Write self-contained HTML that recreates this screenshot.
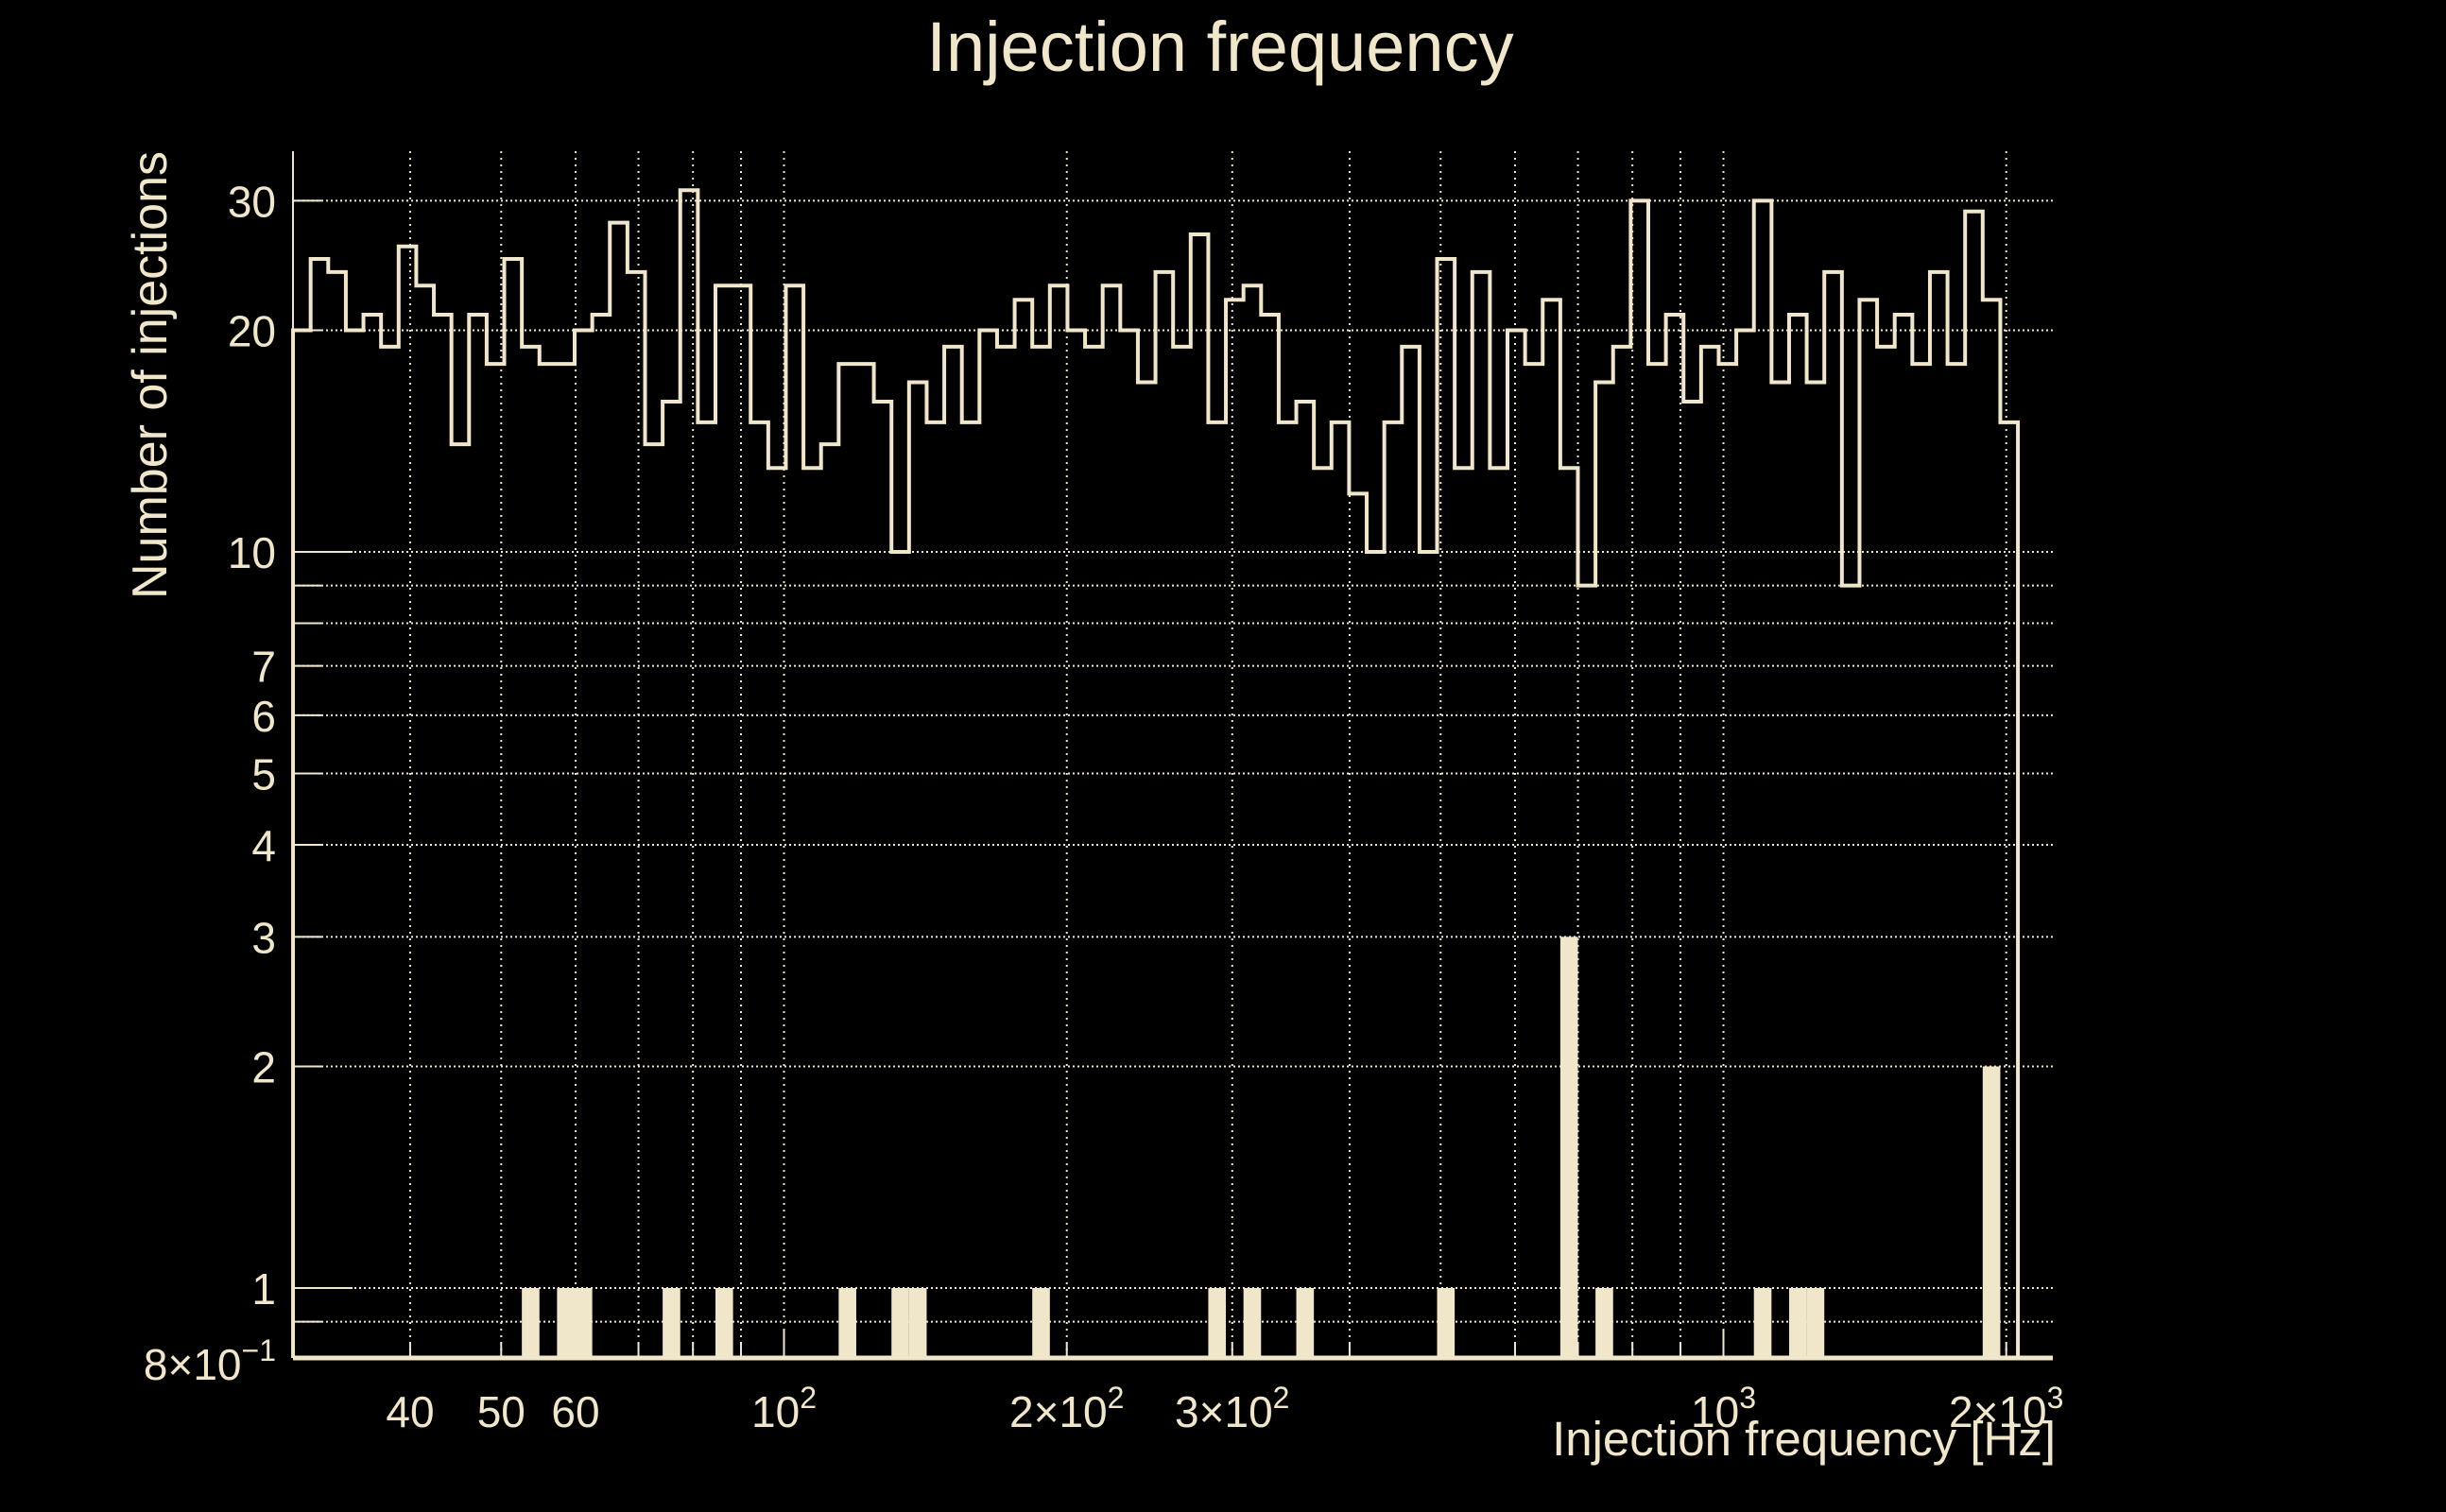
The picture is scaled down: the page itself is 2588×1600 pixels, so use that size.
<!DOCTYPE html>
<html><head><meta charset="utf-8">
<style>
html,body{margin:0;padding:0;background:#000;}
svg{display:block;}
text{font-family:"Liberation Sans",sans-serif;fill:#F0E6CA;}
</style></head>
<body>
<svg id="chart" width="2588" height="1600" viewBox="0 0 2588 1600" xmlns="http://www.w3.org/2000/svg">
<rect width="2588" height="1600" fill="#000"/>
<g id="grid"></g>
<g id="series"></g>
<g id="axes"></g>
<text x="1291" y="75" font-size="74" text-anchor="middle">Injection frequency</text>
<text transform="translate(176,160) rotate(-90)" font-size="52" text-anchor="end">Number of injections</text>
<text x="2175" y="1540" font-size="51" text-anchor="end">Injection frequency [Hz]</text>
</svg>
<script>
// ---- data ----
const binMin = 30.02;
const binMax = 2058;
const allCounts = [20,25,24,20,21,19,26,23,21,14,21,18,25,19,18,18,20,21,28,24,14,16,31,15,23,23,15,13,23,13,14,18,18,16,10,17,15,19,15,20,19,22,19,23,20,19,23,20,17,24,19,27,15,22,23,21,15,16,13,15,12,10,15,19,10,25,13,24,13,20,18,22,13,9,17,19,30,18,21,16,19,18,20,30,17,21,17,24,9,22,19,21,18,24,18,29,22,15];
const selCounts = [0,0,0,0,0,0,0,0,0,0,0,0,0,1,0,1,1,0,0,0,0,1,0,0,1,0,0,0,0,0,0,1,0,0,1,1,0,0,0,0,0,0,1,0,0,0,0,0,0,0,0,0,1,0,1,0,0,1,0,0,0,0,0,0,0,1,0,0,0,0,0,0,3,0,1,0,0,0,0,0,0,0,0,1,0,1,1,0,0,0,0,0,0,0,0,0,2,0];
const yGridValues = [1,2,3,4,5,6,7,8,9,10,20,30,0.9];
const yTickLabels = [["30",30],["20",20],["10",10],["7",7],["6",6],["5",5],["4",4],["3",3],["2",2],["1",1]];
const xGridValues = [40,50,60,70,80,90,100,200,300,400,500,600,700,800,900,1000,2000];
const xTickLabels = [["40",40,""],["50",50,""],["60",60,""],["10",100,"2"],["2\u00d710",200,"2"],["3\u00d710",300,"2"],["10",1000,"3"],["2\u00d710",2000,"3"]];

// ---- axes ----
const L=310,R=2172,T=160,B=1437;
function X(f){return 829.5+(Math.log10(f)-2)*994;}
function Y(v){return 1363-Math.log10(v)*779;}
const C="#F0E6CA";
const NS="http://www.w3.org/2000/svg";
function mk(tag,attrs,parent){const e=document.createElementNS(NS,tag);for(const k in attrs)e.setAttribute(k,attrs[k]);parent.appendChild(e);return e;}
const grid=document.getElementById('grid'),series=document.getElementById('series'),axes=document.getElementById('axes');

xGridValues.forEach(f=>{
  const l=mk('line',{x1:X(f),x2:X(f),y1:T,y2:B,stroke:C,'stroke-width':2,'stroke-dasharray':'2 5'},grid);
  
  
});
yGridValues.forEach(v=>{
  const l=mk('line',{x1:L,x2:R,y1:Y(v),y2:Y(v),stroke:C,'stroke-width':2,'stroke-dasharray':'2 3'},grid);
  
  
});

const nb=allCounts.length;
const lmin=Math.log10(binMin),lmax=Math.log10(binMax);
function edge(i){return Math.pow(10,lmin+(lmax-lmin)*i/nb);}

selCounts.forEach((v,i)=>{
  if(v<=0)return;
  const x0=X(edge(i)),x1=X(edge(i+1));
  const r=mk('rect',{x:x0,y:Y(v),width:x1-x0,height:B-Y(v),fill:C},series);
  
  
});

let d='M'+X(edge(0))+','+B;
allCounts.forEach((v,i)=>{
  d+=' L'+X(edge(i))+','+Y(v)+' L'+X(edge(i+1))+','+Y(v);
});
d+=' L'+X(edge(nb))+','+B;
const p=mk('path',{d:d,fill:'none',stroke:C,'stroke-width':4,'stroke-linejoin':'miter'},series);



const ya=mk('line',{x1:L,x2:L,y1:T,y2:B,stroke:C,'stroke-width':2},axes);


const xa=mk('line',{x1:L,x2:R,y1:B,y2:B,stroke:C,'stroke-width':5},axes);



yGridValues.forEach(v=>{
  const len=(v===1||v===10)?63:30;
  const t=mk('line',{x1:L,x2:L+len,y1:Y(v),y2:Y(v),stroke:C,'stroke-width':2},axes);
  
  
});
yTickLabels.forEach(([s,v])=>{
  const t=mk('text',{x:292,y:Y(v)+17,'font-size':46,'text-anchor':'end'},axes);
  t.textContent=s;
  
  
});
{
  const t=mk('text',{x:292,y:1460,'font-size':46,'text-anchor':'end'},axes);
  t.textContent='8\u00d710';
  const s=mk('tspan',{'font-size':32,dy:-20},t);s.textContent='\u22121';
  
  
}
xGridValues.forEach(f=>{
  const len=(f===100||f===1000)?30:16;
  const t=mk('line',{x1:X(f),x2:X(f),y1:B,y2:B-len,stroke:C,'stroke-width':2},axes);
  
  
});
xTickLabels.forEach(([s,f,sup])=>{
  const t=mk('text',{x:X(f),y:1510,'font-size':46,'text-anchor':'middle'},axes);
  t.textContent=s;
  if(sup){const ts=mk('tspan',{'font-size':32,dy:-20},t);ts.textContent=sup;}
  
  
});
</script>
</body></html>
